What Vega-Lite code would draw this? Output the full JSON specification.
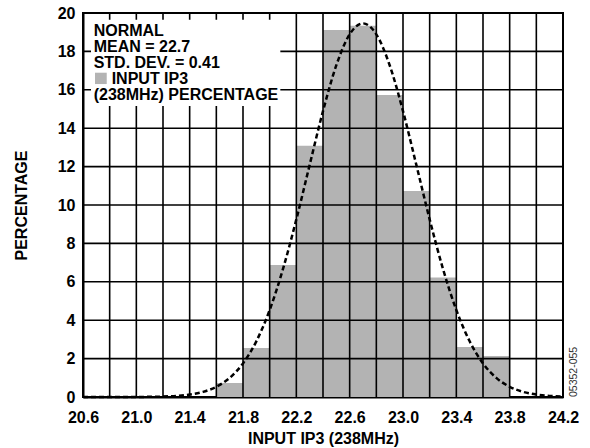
{
  "$schema": "https://vega.github.io/schema/vega-lite/v6.json",
  "autosize": {"type": "none"},
  "width": 480,
  "height": 384,
  "padding": {"left": 83, "top": 13, "right": 27, "bottom": 51},
  "background": "white",
  "config": {
    "view": {"stroke": "black", "strokeWidth": 2},
    "font": "Liberation Sans",
    "axis": {
      "labelFont": "Liberation Sans",
      "labelFontSize": 16,
      "labelFontWeight": "bold",
      "labelColor": "black",
      "titleFont": "Liberation Sans",
      "titleFontSize": 16,
      "titleFontWeight": "bold",
      "titleColor": "black",
      "ticks": false,
      "grid": false,
      "domain": true,
      "domainColor": "black",
      "domainWidth": 2,
      "labelOverlap": false,
      "labelFlush": false,
      "labelBound": false,
      "zindex": 1
    },
    "axisY": {"labelOverlap": false, "labelPadding": 8},
    "axisX": {"labelOverlap": false, "labelPadding": 12}
  },
  "datasets": {
    "bars": [
      {"x0": 21.6, "x1": 21.8, "pct": 0.73},
      {"x0": 21.8, "x1": 22.0, "pct": 2.55},
      {"x0": 22.0, "x1": 22.2, "pct": 6.87},
      {"x0": 22.2, "x1": 22.4, "pct": 13.09},
      {"x0": 22.4, "x1": 22.6, "pct": 19.11},
      {"x0": 22.6, "x1": 22.8, "pct": 19.34},
      {"x0": 22.8, "x1": 23.0, "pct": 15.73},
      {"x0": 23.0, "x1": 23.2, "pct": 10.73},
      {"x0": 23.2, "x1": 23.4, "pct": 6.23},
      {"x0": 23.4, "x1": 23.6, "pct": 2.6},
      {"x0": 23.6, "x1": 23.8, "pct": 2.13}
    ],
    "vgrid": [
      {"v": 20.8}, {"v": 21.0}, {"v": 21.2}, {"v": 21.4}, {"v": 21.6}, {"v": 21.8},
      {"v": 22.0}, {"v": 22.2}, {"v": 22.4}, {"v": 22.6}, {"v": 22.8}, {"v": 23.0},
      {"v": 23.2}, {"v": 23.4}, {"v": 23.6}, {"v": 23.8}, {"v": 24.0}
    ],
    "hgrid": [
      {"h": 2}, {"h": 4}, {"h": 6}, {"h": 8}, {"h": 10}, {"h": 12}, {"h": 14}, {"h": 16}, {"h": 18}
    ],
    "box": [{"bx0": 20.66, "bx1": 22.08, "by0": 15.15, "by1": 19.65}],
    "swatch": [{"sx0": 20.69, "sx1": 20.778, "sy0": 16.3, "sy1": 16.89}],
    "legendText": [
      {"label": "NORMAL", "tx": 20.68, "ty": 18.82},
      {"label": "MEAN = 22.7", "tx": 20.68, "ty": 17.99},
      {"label": "STD. DEV. = 0.41", "tx": 20.68, "ty": 17.16},
      {"label": "INPUT IP3", "tx": 20.815, "ty": 16.32},
      {"label": "(238MHz) PERCENTAGE", "tx": 20.68, "ty": 15.49}
    ],
    "curve": [
      {"cx": 20.6, "cy": 0.0}, {"cx": 20.7, "cy": 0.0001}, {"cx": 20.8, "cy": 0.0004},
      {"cx": 20.9, "cy": 0.0013}, {"cx": 21.0, "cy": 0.0036}, {"cx": 21.1, "cy": 0.0096},
      {"cx": 21.2, "cy": 0.024}, {"cx": 21.3, "cy": 0.057}, {"cx": 21.4, "cy": 0.128},
      {"cx": 21.5, "cy": 0.269}, {"cx": 21.6, "cy": 0.532}, {"cx": 21.7, "cy": 0.994},
      {"cx": 21.8, "cy": 1.75}, {"cx": 21.9, "cy": 2.9}, {"cx": 22.0, "cy": 4.53},
      {"cx": 22.1, "cy": 6.67}, {"cx": 22.2, "cy": 9.25}, {"cx": 22.3, "cy": 12.09},
      {"cx": 22.4, "cy": 14.89}, {"cx": 22.5, "cy": 17.28}, {"cx": 22.6, "cy": 18.89},
      {"cx": 22.7, "cy": 19.46}, {"cx": 22.8, "cy": 18.89}, {"cx": 22.9, "cy": 17.28},
      {"cx": 23.0, "cy": 14.89}, {"cx": 23.1, "cy": 12.09}, {"cx": 23.2, "cy": 9.25},
      {"cx": 23.3, "cy": 6.67}, {"cx": 23.4, "cy": 4.53}, {"cx": 23.5, "cy": 2.9},
      {"cx": 23.6, "cy": 1.75}, {"cx": 23.7, "cy": 0.994}, {"cx": 23.8, "cy": 0.532},
      {"cx": 23.9, "cy": 0.269}, {"cx": 24.0, "cy": 0.128}, {"cx": 24.1, "cy": 0.057},
      {"cx": 24.2, "cy": 0.024}
    ],
    "stamp": [{"label": "05352-055", "sx": 24.28, "sy": 0}]
  },
  "layer": [
    {
      "data": {"name": "bars"},
      "mark": {"type": "rect", "fill": "#b3b3b3", "stroke": null},
      "encoding": {
        "x": {
          "field": "x0", "type": "quantitative",
          "scale": {"domain": [20.6, 24.2], "nice": false, "zero": false},
          "axis": {"title": "INPUT IP3 (238MHz)", "values": [20.6, 21.0, 21.4, 21.8, 22.2, 22.6, 23.0, 23.4, 23.8, 24.2], "format": ".1f", "labelOverlap": false, "titleX": 240, "titleY": 41, "titleBaseline": "middle"}
        },
        "x2": {"field": "x1"},
        "y": {
          "field": "pct", "type": "quantitative",
          "scale": {"domain": [0, 20], "nice": false, "zero": false},
          "axis": {"title": "PERCENTAGE", "values": [0, 2, 4, 6, 8, 10, 12, 14, 16, 18, 20], "format": "d", "labelOverlap": false, "titleX": -62, "titleY": 192, "titleAngle": 270, "titleBaseline": "middle", "titleAlign": "center"}
        },
        "y2": {"datum": 0}
      }
    },
    {
      "data": {"name": "vgrid"},
      "mark": {"type": "rule", "color": "black", "strokeWidth": 1.6},
      "encoding": {
        "x": {
          "field": "v", "type": "quantitative",
          "scale": {"domain": [20.6, 24.2], "nice": false, "zero": false},
          "axis": {"title": "INPUT IP3 (238MHz)", "values": [20.6, 21.0, 21.4, 21.8, 22.2, 22.6, 23.0, 23.4, 23.8, 24.2], "format": ".1f", "labelOverlap": false, "titleX": 240, "titleY": 41, "titleBaseline": "middle"}
        }
      }
    },
    {
      "data": {"name": "hgrid"},
      "mark": {"type": "rule", "color": "black", "strokeWidth": 1.6},
      "encoding": {
        "y": {
          "field": "h", "type": "quantitative",
          "scale": {"domain": [0, 20], "nice": false, "zero": false},
          "axis": {"title": "PERCENTAGE", "values": [0, 2, 4, 6, 8, 10, 12, 14, 16, 18, 20], "format": "d", "labelOverlap": false, "titleX": -62, "titleY": 192, "titleAngle": 270, "titleBaseline": "middle", "titleAlign": "center"}
        }
      }
    },
    {
      "data": {"name": "box"},
      "mark": {"type": "rect", "fill": "white", "stroke": null},
      "encoding": {
        "x": {
          "field": "bx0", "type": "quantitative",
          "scale": {"domain": [20.6, 24.2], "nice": false, "zero": false},
          "axis": {"title": "INPUT IP3 (238MHz)", "values": [20.6, 21.0, 21.4, 21.8, 22.2, 22.6, 23.0, 23.4, 23.8, 24.2], "format": ".1f", "labelOverlap": false, "titleX": 240, "titleY": 41, "titleBaseline": "middle"}
        },
        "x2": {"field": "bx1"},
        "y": {
          "field": "by0", "type": "quantitative",
          "scale": {"domain": [0, 20], "nice": false, "zero": false},
          "axis": {"title": "PERCENTAGE", "values": [0, 2, 4, 6, 8, 10, 12, 14, 16, 18, 20], "format": "d", "labelOverlap": false, "titleX": -62, "titleY": 192, "titleAngle": 270, "titleBaseline": "middle", "titleAlign": "center"}
        },
        "y2": {"field": "by1"}
      }
    },
    {
      "data": {"name": "swatch"},
      "mark": {"type": "rect", "fill": "#b3b3b3", "stroke": null},
      "encoding": {
        "x": {
          "field": "sx0", "type": "quantitative",
          "scale": {"domain": [20.6, 24.2], "nice": false, "zero": false},
          "axis": {"title": "INPUT IP3 (238MHz)", "values": [20.6, 21.0, 21.4, 21.8, 22.2, 22.6, 23.0, 23.4, 23.8, 24.2], "format": ".1f", "labelOverlap": false, "titleX": 240, "titleY": 41, "titleBaseline": "middle"}
        },
        "x2": {"field": "sx1"},
        "y": {
          "field": "sy0", "type": "quantitative",
          "scale": {"domain": [0, 20], "nice": false, "zero": false},
          "axis": {"title": "PERCENTAGE", "values": [0, 2, 4, 6, 8, 10, 12, 14, 16, 18, 20], "format": "d", "labelOverlap": false, "titleX": -62, "titleY": 192, "titleAngle": 270, "titleBaseline": "middle", "titleAlign": "center"}
        },
        "y2": {"field": "sy1"}
      }
    },
    {
      "data": {"name": "legendText"},
      "mark": {"type": "text", "align": "left", "baseline": "alphabetic", "font": "Liberation Sans", "fontSize": 16, "fontWeight": "bold", "color": "black"},
      "encoding": {
        "x": {
          "field": "tx", "type": "quantitative",
          "scale": {"domain": [20.6, 24.2], "nice": false, "zero": false},
          "axis": {"title": "INPUT IP3 (238MHz)", "values": [20.6, 21.0, 21.4, 21.8, 22.2, 22.6, 23.0, 23.4, 23.8, 24.2], "format": ".1f", "labelOverlap": false, "titleX": 240, "titleY": 41, "titleBaseline": "middle"}
        },
        "y": {
          "field": "ty", "type": "quantitative",
          "scale": {"domain": [0, 20], "nice": false, "zero": false},
          "axis": {"title": "PERCENTAGE", "values": [0, 2, 4, 6, 8, 10, 12, 14, 16, 18, 20], "format": "d", "labelOverlap": false, "titleX": -62, "titleY": 192, "titleAngle": 270, "titleBaseline": "middle", "titleAlign": "center"}
        },
        "text": {"field": "label"}
      }
    },
    {
      "data": {"name": "curve"},
      "mark": {"type": "line", "color": "black", "strokeWidth": 2.5, "strokeDash": [5, 3], "interpolate": "monotone"},
      "encoding": {
        "x": {
          "field": "cx", "type": "quantitative",
          "scale": {"domain": [20.6, 24.2], "nice": false, "zero": false},
          "axis": {"title": "INPUT IP3 (238MHz)", "values": [20.6, 21.0, 21.4, 21.8, 22.2, 22.6, 23.0, 23.4, 23.8, 24.2], "format": ".1f", "labelOverlap": false, "titleX": 240, "titleY": 41, "titleBaseline": "middle"}
        },
        "y": {
          "field": "cy", "type": "quantitative",
          "scale": {"domain": [0, 20], "nice": false, "zero": false},
          "axis": {"title": "PERCENTAGE", "values": [0, 2, 4, 6, 8, 10, 12, 14, 16, 18, 20], "format": "d", "labelOverlap": false, "titleX": -62, "titleY": 192, "titleAngle": 270, "titleBaseline": "middle", "titleAlign": "center"}
        }
      }
    },
    {
      "data": {"name": "stamp"},
      "mark": {"type": "text", "angle": 270, "align": "left", "baseline": "middle", "font": "Liberation Sans", "fontSize": 10.5, "color": "#333333"},
      "encoding": {
        "x": {
          "field": "sx", "type": "quantitative",
          "scale": {"domain": [20.6, 24.2], "nice": false, "zero": false},
          "axis": {"title": "INPUT IP3 (238MHz)", "values": [20.6, 21.0, 21.4, 21.8, 22.2, 22.6, 23.0, 23.4, 23.8, 24.2], "format": ".1f", "labelOverlap": false, "titleX": 240, "titleY": 41, "titleBaseline": "middle"}
        },
        "y": {
          "field": "sy", "type": "quantitative",
          "scale": {"domain": [0, 20], "nice": false, "zero": false},
          "axis": {"title": "PERCENTAGE", "values": [0, 2, 4, 6, 8, 10, 12, 14, 16, 18, 20], "format": "d", "labelOverlap": false, "titleX": -62, "titleY": 192, "titleAngle": 270, "titleBaseline": "middle", "titleAlign": "center"}
        },
        "text": {"field": "label"}
      }
    }
  ]
}
